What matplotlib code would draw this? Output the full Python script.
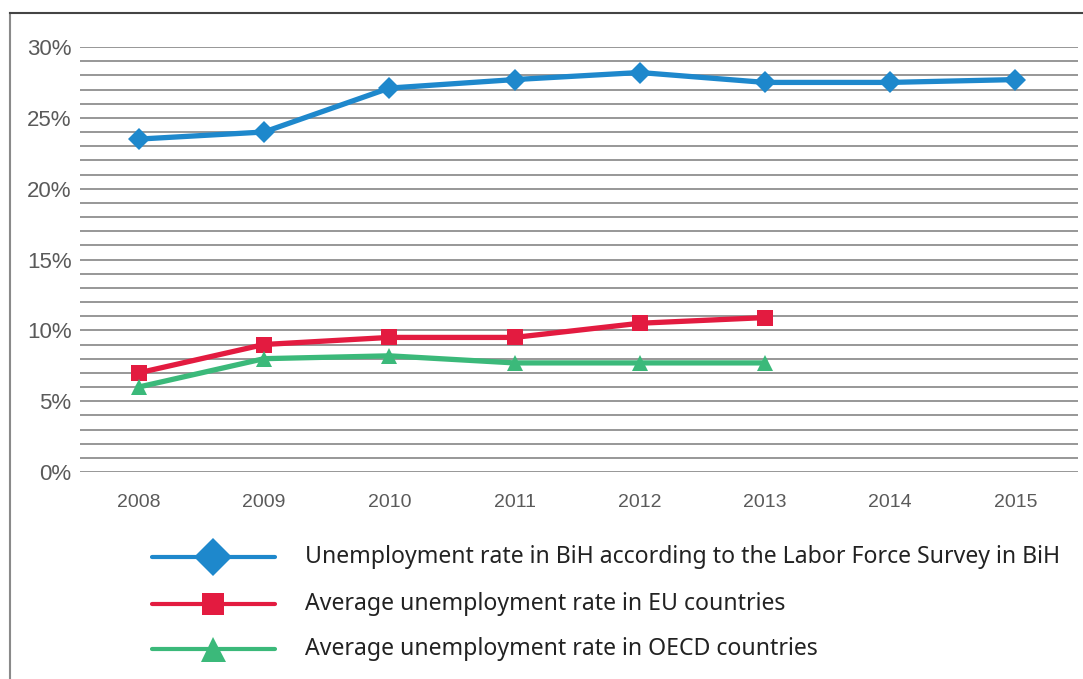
import matplotlib
matplotlib.use("Agg")
import matplotlib.pyplot as plt
from matplotlib.lines import Line2D
from matplotlib.ticker import FuncFormatter, MultipleLocator

years = ["2008", "2009", "2010", "2011", "2012", "2013", "2014", "2015"]
bih_rate = [23.5, 24.0, 27.1, 27.7, 28.2, 27.5, 27.5, 27.7]
eu_rate = [7.0, 9.0, 9.5, 9.5, 10.5, 10.9]
oecd_rate = [6.0, 8.0, 8.2, 7.7, 7.7, 7.7]

labels = [
    "Unemployment rate in BiH according to the Labor Force Survey in BiH",
    "Average unemployment rate in EU countries",
    "Average unemployment rate in OECD countries",
]
colors = ["#1e88cc", "#e31b40", "#3bb97a"]
markers = ["D", "s", "^"]

W, H = 1083, 679
fig = plt.figure(figsize=(W / 100, H / 100), dpi=100)
ax = fig.add_axes([80 / W, 1 - 472 / H, (1078 - 80) / W, (472 - 47) / H])

x = list(range(len(years)))
series = [bih_rate, eu_rate, oecd_rate]
msizes = [11, 12, 12]
for vals, c, m, ms in zip(series, colors, markers, msizes):
    ax.plot(x[:len(vals)], vals, color=c, lw=3.8, marker=m, ms=ms,
            markeredgewidth=0, solid_joinstyle="round", zorder=3)

ax.set_xlim(-0.47, len(years) - 0.5)
ax.set_ylim(0, 30)
ax.yaxis.set_major_locator(MultipleLocator(5))
ax.yaxis.set_minor_locator(MultipleLocator(1))
ax.yaxis.set_major_formatter(FuncFormatter(lambda v, p: f"{v:.0f}%"))
ax.set_xticks(x)
ax.set_xticklabels(years)
ax.grid(axis="y", which="both", color="#8f8f8f", lw=1.3)
ax.set_axisbelow(True)
for s in ax.spines.values():
    s.set_visible(False)
ax.tick_params(axis="both", which="both", length=0)
ax.tick_params(axis="y", labelsize=16, labelcolor="#5a5a5a", pad=6)
ax.tick_params(axis="x", labelsize=14, labelcolor="#5a5a5a", pad=16)
for t in ax.get_yticklabels() + ax.get_xticklabels():
    t.set_family("Liberation Sans")

# outer frame: left and top edges
fig.add_artist(Line2D([10 / W, 10 / W], [0, 1 - 13 / H], transform=fig.transFigure,
                      color="#8a8a8a", lw=1.5))
fig.add_artist(Line2D([10 / W, 1], [1 - 13 / H, 1 - 13 / H], transform=fig.transFigure,
                      color="#444444", lw=1.5))

# legend
leg_y = [557, 604, 649]
leg_ms = [19, 16, 18]
for lab, c, m, yy, ms in zip(labels, colors, markers, leg_y, leg_ms):
    fy = 1 - yy / H
    fig.add_artist(Line2D([152 / W, 275 / W], [fy, fy], transform=fig.transFigure,
                          color=c, lw=3, solid_capstyle="round"))
    fig.add_artist(Line2D([213 / W], [fy], transform=fig.transFigure, color=c,
                          marker=m, ms=ms, markeredgewidth=0, linestyle="none"))
    fig.text(305 / W, fy, lab, fontsize=16.6, color="#222222", va="center",
             ha="left", family="Noto Sans")

fig.savefig("out.png", dpi=100)
